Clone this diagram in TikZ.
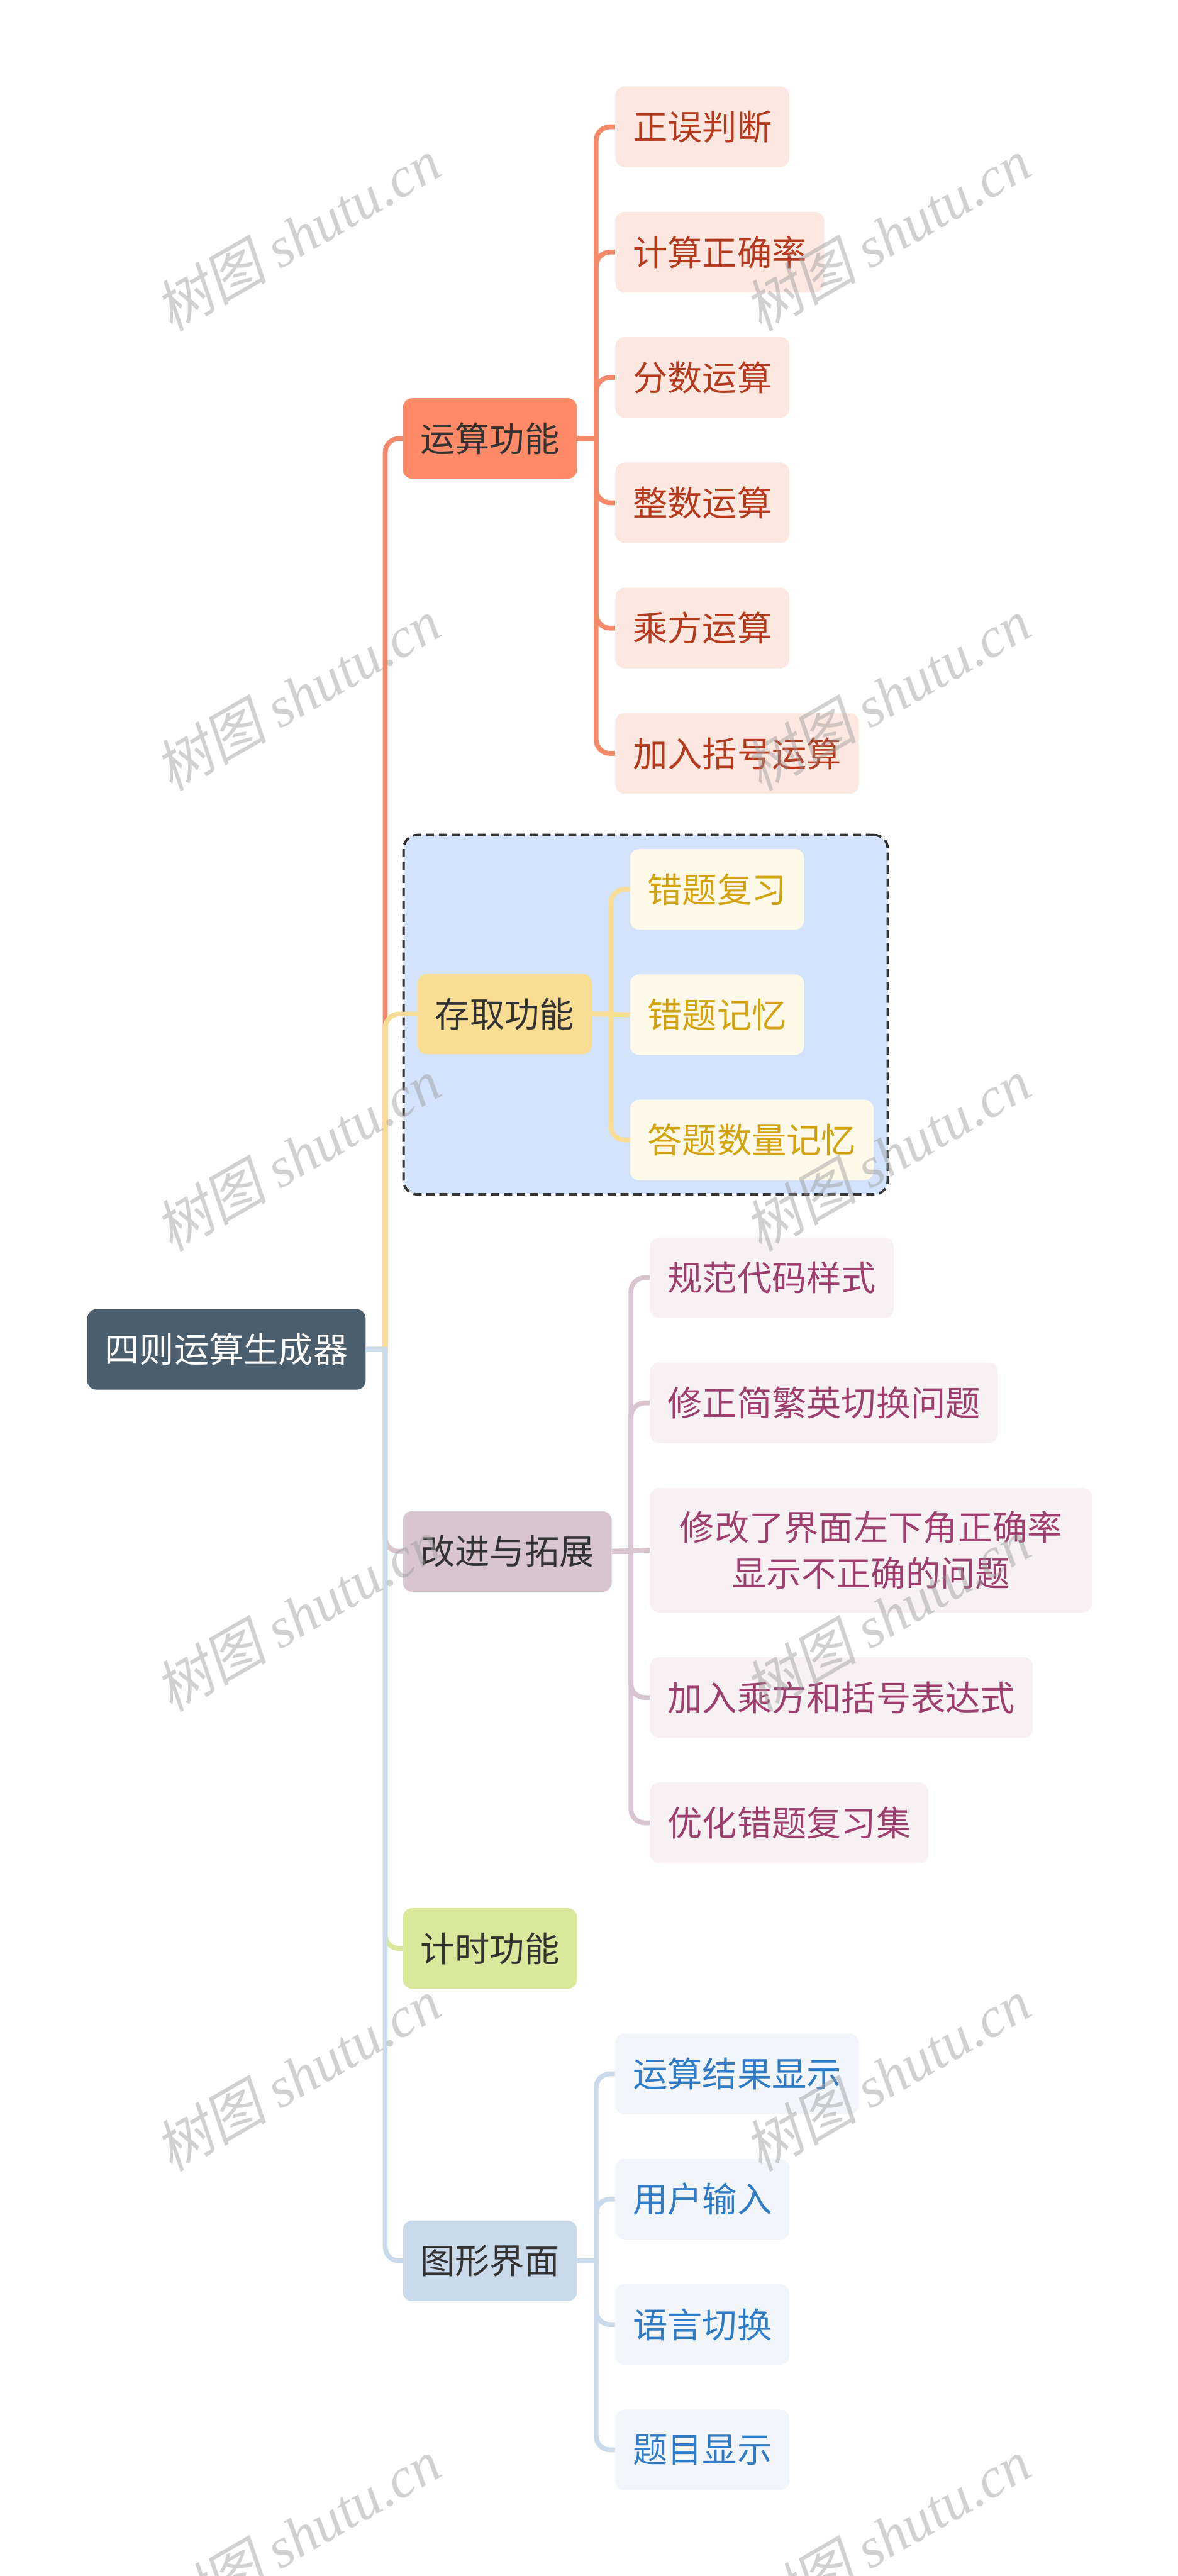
\documentclass[tikz,border=0pt]{standalone}
\usepackage{fontspec}
\setmainfont{Noto Sans CJK SC}
\newfontfamily\wmlatin{Liberation Serif}
\newfontfamily\wmcjk[FakeSlant=0.2]{Noto Sans CJK SC}
\usepackage{xcolor}
\usepackage{tikz}
\usetikzlibrary{positioning,calc,fit,backgrounds}
\definecolor{rootfill}{HTML}{4B5E6D}
\definecolor{topictext}{HTML}{333333}
\definecolor{yunfill}{HTML}{FF8A68}
\definecolor{yunleaf}{HTML}{FDE8E1}
\definecolor{yuntext}{HTML}{B53A1D}
\definecolor{yunline}{HTML}{F58A6B}
\definecolor{cunfill}{HTML}{F8DD93}
\definecolor{cunleaf}{HTML}{FEF9E8}
\definecolor{cuntext}{HTML}{D3A30F}
\definecolor{cunline}{HTML}{F8DE95}
\definecolor{grpfill}{HTML}{D3E3FB}
\definecolor{grpline}{HTML}{333333}
\definecolor{gaifill}{HTML}{D9C5D0}
\definecolor{gaileaf}{HTML}{F7F1F3}
\definecolor{gaitext}{HTML}{9E3E6C}
\definecolor{gailine}{HTML}{D9C5D0}
\definecolor{jifill}{HTML}{D9E89B}
\definecolor{jiline}{HTML}{D9E89B}
\definecolor{tufill}{HTML}{C9DAEB}
\definecolor{tuleaf}{HTML}{F2F6FA}
\definecolor{tutext}{HTML}{2F7BC5}
\definecolor{tuline}{HTML}{C9DAEB}
\newcommand{\wmtext}{{\wmcjk 树图} {\wmlatin\itshape shutu.cn}}
\tikzset{
  mapnode/.style = {rounded corners=0.2cm, inner xsep=0.38cm, inner ysep=0.5cm,
                    minimum height=1.75cm, align=center,
                    font=\fontsize{21.5}{28.5}\selectfont},
  rootbox/.style = {mapnode, fill=rootfill, text=white},
  topic/.style   = {mapnode, fill=#1, text=topictext},
  leaf/.style 2 args = {mapnode, fill=#1, text=#2},
  yunitem/.style = {leaf={yunleaf}{yuntext}},
  cunitem/.style = {leaf={cunleaf}{cuntext}},
  gaiitem/.style = {leaf={gaileaf}{gaitext}},
  tuitem/.style  = {leaf={tuleaf}{tutext}},
  link/.style    = {line width=3pt, draw=#1},
  grp/.style     = {draw=grpline, fill=grpfill, line width=1.5pt,
                    dash pattern=on 5pt off 3pt, rounded corners=0.3cm, inner sep=0.3cm},
  wmark/.style   = {rotate=30, text=black!40, text opacity=0.45,
                    font=\fontsize{35}{40}\selectfont},
}
\begin{document}
\begin{tikzpicture}
  \useasboundingbox (0,0) rectangle (25.6,-55.99);
  % root and main topics
  \node[rootbox, anchor=west] (root) at (1.89,-29.33) {四则运算生成器};
  \node[topic=yunfill, anchor=west] (yun) at (8.75,-9.53) {运算功能};
  \node[topic=cunfill, anchor=west] (cun) at (9.07,-22.04) {存取功能};
  \node[topic=gaifill, anchor=west] (gai) at (8.75,-33.72) {改进与拓展};
  \node[topic=jifill, anchor=west] (ji) at (8.75,-42.35) {计时功能};
  \node[topic=tufill, anchor=west] (tu) at (8.75,-49.14) {图形界面};

  % 运算功能
  \node[yunitem, anchor=west] (yun1) at ($(yun.east)+(0.82,6.775)$) {正误判断};
  \node[yunitem, below=0.96cm of yun1.south west, anchor=north west] (yun2) {计算正确率};
  \node[yunitem, below=0.96cm of yun2.south west, anchor=north west] (yun3) {分数运算};
  \node[yunitem, below=0.96cm of yun3.south west, anchor=north west] (yun4) {整数运算};
  \node[yunitem, below=0.96cm of yun4.south west, anchor=north west] (yun5) {乘方运算};
  \node[yunitem, below=0.96cm of yun5.south west, anchor=north west] (yun6) {加入括号运算};

  % 存取功能
  \node[cunitem, anchor=west] (cun1) at ($(cun.east)+(0.82,2.71)$) {错题复习};
  \node[cunitem, below=0.96cm of cun1.south west, anchor=north west] (cun2) {错题记忆};
  \node[cunitem, below=0.96cm of cun2.south west, anchor=north west] (cun3) {答题数量记忆};

  % 改进与拓展
  \node[gaiitem, anchor=west] (gai1) at ($(gai.east)+(0.82,5.95)$) {规范代码样式};
  \node[gaiitem, below=0.96cm of gai1.south west, anchor=north west] (gai2) {修正简繁英切换问题};
  \node[gaiitem, minimum width=9.6cm, below=0.96cm of gai2.south west, anchor=north west] (gai3)
       {修改了界面左下角正确率\\显示不正确的问题};
  \node[gaiitem, below=0.96cm of gai3.south west, anchor=north west] (gai4) {加入乘方和括号表达式};
  \node[gaiitem, below=0.96cm of gai4.south west, anchor=north west] (gai5) {优化错题复习集};

  % 图形界面
  \node[tuitem, anchor=west] (tu1) at ($(tu.east)+(0.82,4.065)$) {运算结果显示};
  \node[tuitem, below=0.96cm of tu1.south west, anchor=north west] (tu2) {用户输入};
  \node[tuitem, below=0.96cm of tu2.south west, anchor=north west] (tu3) {语言切换};
  \node[tuitem, below=0.96cm of tu3.south west, anchor=north west] (tu4) {题目显示};

  \begin{scope}[on background layer]
    \fill[white] (0,0) rectangle (25.6,-55.99);
    \node[grp, fit=(cun)(cun1)(cun2)(cun3)] (cungrp) {};
  \end{scope}

  % connectors
  \foreach \t/\c in {yun/yunline, cun/cunline, gai/gailine, ji/jiline, tu/tuline}
    \draw[link=\c] (root.east) -- ++(0.42,0) [rounded corners=0.3cm] |- (\t.west);
  \foreach \n in {yun1,yun2,yun3,yun4,yun5,yun6}
    \draw[link=yunline] (yun.east) -- ++(0.41,0) [rounded corners=0.3cm] |- (\n.west);
  \foreach \n in {cun1,cun3}
    \draw[link=cunline] (cun.east) -- ++(0.41,0) [rounded corners=0.3cm] |- (\n.west);
  \draw[link=cunline] (cun.east) -- (cun2.west);
  \foreach \n in {gai1,gai2,gai4,gai5}
    \draw[link=gailine] (gai.east) -- ++(0.41,0) [rounded corners=0.3cm] |- (\n.west);
  \draw[link=gailine] (gai.east) -- (gai3.west);
  \foreach \n in {tu1,tu2,tu3,tu4}
    \draw[link=tuline] (tu.east) -- ++(0.41,0) [rounded corners=0.3cm] |- (\n.west);

  % watermark
  \foreach \y [count=\i] in {5.1,15.1,25.1,35.1,45.1,55.1} {
    \node[wmark] (wml\i) at (6.46,-\y) {\wmtext};
    \node[wmark] (wmr\i) at (19.28,-\y) {\wmtext};
  }
\end{tikzpicture}
\end{document}
